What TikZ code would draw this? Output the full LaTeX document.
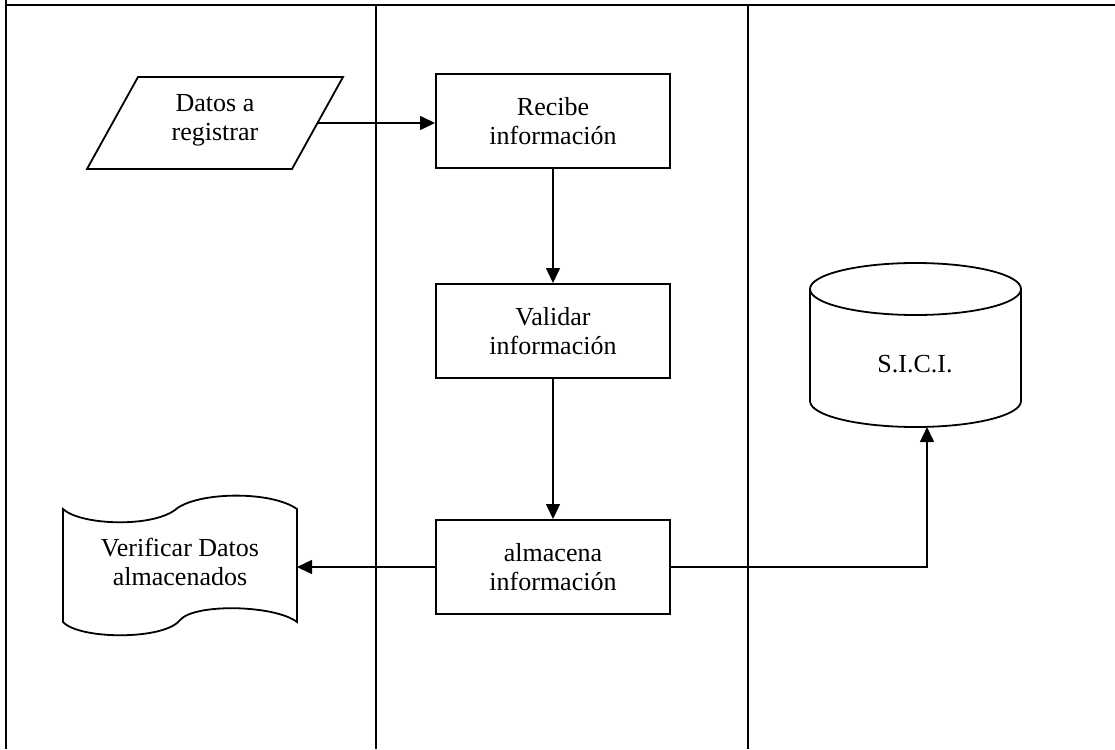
\documentclass[tikz,border=0pt]{standalone}
\usepackage{fontspec}
\setmainfont{Liberation Serif}
\usetikzlibrary{arrows.meta}
\begin{document}
\begin{tikzpicture}[x=1pt,y=-1pt,
  frame/.style={line width=2pt},
  shapeline/.style={line width=1.8pt},
  procbox/.style={draw,line width=2pt,minimum width=234pt,minimum height=94pt,inner sep=0pt},
  lbl/.style={align=center,font=\fontsize{26}{29}\selectfont},
  conn/.style={line width=1.5pt,-{Triangle[length=15pt,width=14pt]}}
]
\useasboundingbox (0,0) rectangle (1115,749);
% frame
\draw[frame] (6,0) -- (6,749);
\draw[frame] (5,5.5) -- (1115,5.5);
\draw[frame] (376,5.5) -- (376,749);
\draw[frame] (748,5.5) -- (748,749);
% parallelogram
\draw[shapeline] (138,77) -- (343,77) -- (292,169) -- (87,169) -- cycle;
\node[lbl] (datos) at (215,120) {Datos a\\registrar};
\coordinate (datosE) at (318,123);
% process boxes
\node[procbox,lbl] (rec) at (553,121) {Recibe\\información};
\node[procbox,lbl] (val) at (553,331) {Validar\\información};
\node[procbox,lbl] (alm) at (553,567) {almacena\\información};
% document
\draw[shapeline] (63,509) .. controls (80,525) and (150,528) .. (175,510)
  .. controls (195,492) and (270,490) .. (297,509) -- (297,622)
  .. controls (275,605) and (195,603) .. (180,620)
  .. controls (165,640) and (80,640) .. (63,622) -- cycle;
\node[lbl] (doc) at (180,562) {Verificar Datos\\almacenados};
\coordinate (docE) at (297,567);
% cylinder
\draw[shapeline] (915.5,289) ellipse [x radius=105.5pt, y radius=26pt];
\draw[shapeline] (810,289) -- (810,401) arc[start angle=180, end angle=360, x radius=105.5pt, y radius=26pt] -- (1021,289);
\node[lbl] (sici) at (915,364) {S.I.C.I.};
\coordinate (cylB) at (927,427);
% connectors
\draw[conn] (datosE) -- (datosE -| rec.west);
\draw[conn] (rec.south) -- (val.north);
\draw[conn] (val.south) -- (alm.north);
\draw[conn] (alm.west) -- (docE);
\draw[conn] (alm.east) -| (cylB);
\end{tikzpicture}
\end{document}
